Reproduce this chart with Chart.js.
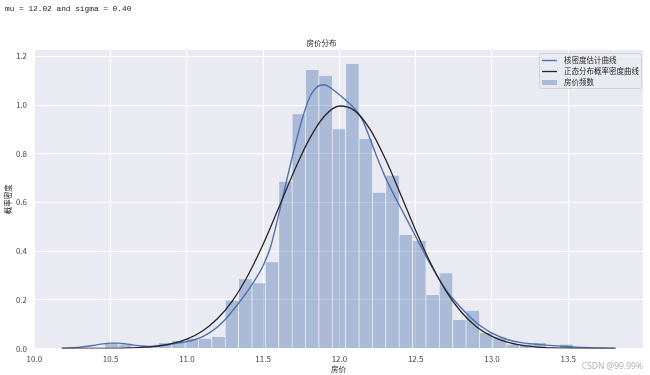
<!DOCTYPE html>
<html>
<head>
<meta charset="utf-8">
<script src="https://cdn.jsdelivr.net/npm/chart.js@4.4.1/dist/chart.umd.min.js"></script>
<style>
html, body { margin: 0; padding: 0; background: #ffffff; }
#wrap { position: relative; width: 650px; height: 375px; }
#stats { position: absolute; left: 5px; top: 4px; font: 7.8px "Liberation Mono", monospace; line-height: 10px; color: #222222; white-space: pre; }
#mark { position: absolute; right: 7px; top: 360px; font: 8.5px "Noto Sans", sans-serif; color: #b4b4b4; }
</style>
</head>
<body>
<div id="wrap">
    <canvas id="chart" width="650" height="375"></canvas>
    <div id="stats">mu = 12.02 and sigma = 0.40</div>
    <div id="mark">CSDN @99.99%</div>
</div>
<script>

// Histogram of log house prices (density): bin centres and heights.
var binCenters = [10.5041, 10.5918, 10.6795, 10.7672, 10.8549, 10.9426, 11.0303, 11.1180,
    11.2057, 11.2934, 11.3811, 11.4688, 11.5565, 11.6442, 11.7319, 11.8196, 11.9073,
    11.9950, 12.0827, 12.1704, 12.2581, 12.3458, 12.4335, 12.5212, 12.6089, 12.6966,
    12.7843, 12.8720, 12.9597, 13.0474, 13.1351, 13.2228, 13.3105, 13.3982, 13.4859];
var binDensity = [0.022, 0.016, 0.0, 0.008, 0.023, 0.031, 0.039, 0.040,
    0.047, 0.197, 0.284, 0.268, 0.354, 0.685, 0.962, 1.144, 1.120,
    0.900, 1.168, 0.860, 0.640, 0.710, 0.466, 0.443, 0.220, 0.309,
    0.117, 0.155, 0.064, 0.046, 0.016, 0.016, 0.023, 0.0, 0.016];

// Kernel density estimate curve.
var kdeX = [10.18, 10.25, 10.3, 10.35, 10.4, 10.45, 10.5, 10.55, 10.6, 10.65, 10.7, 10.75,
    10.8, 10.85, 10.9, 10.95, 11.0, 11.05, 11.1, 11.15, 11.2, 11.25, 11.3, 11.35, 11.4,
    11.45, 11.5, 11.55, 11.6, 11.65, 11.7, 11.75, 11.8, 11.85, 11.9, 11.95, 12.0, 12.05,
    12.1, 12.15, 12.2, 12.25, 12.3, 12.35, 12.4, 12.45, 12.5, 12.55, 12.6, 12.65, 12.7,
    12.75, 12.8, 12.85, 12.9, 12.95, 13.0, 13.1, 13.2, 13.3, 13.4, 13.5, 13.6, 13.7, 13.81];
var kdeY = [0.001, 0.003, 0.005, 0.009, 0.014, 0.019, 0.022, 0.022, 0.019, 0.014, 0.010, 0.008,
    0.009, 0.013, 0.018, 0.023, 0.028, 0.036, 0.048, 0.065, 0.088, 0.118, 0.155, 0.195, 0.238,
    0.285, 0.340, 0.420, 0.545, 0.680, 0.810, 0.930, 1.025, 1.072, 1.083, 1.067, 1.042, 1.015,
    0.985, 0.940, 0.862, 0.780, 0.705, 0.640, 0.580, 0.520, 0.460, 0.400, 0.342, 0.288, 0.240,
    0.200, 0.165, 0.133, 0.105, 0.082, 0.063, 0.037, 0.023, 0.017, 0.012, 0.008, 0.004, 0.002, 0.0005];

// Fitted normal curve (mu = 12.02, sigma = 0.40).
var normX = [10.18, 10.3, 10.4, 10.5, 10.6, 10.7, 10.8, 10.9, 11.0, 11.1, 11.2, 11.3, 11.4,
    11.5, 11.6, 11.7, 11.8, 11.9, 12.0, 12.1, 12.2, 12.3, 12.4, 12.5, 12.6, 12.7, 12.8,
    12.9, 13.0, 13.1, 13.2, 13.3, 13.4, 13.5, 13.6, 13.7, 13.81];
var normY = [0.00002, 0.0001, 0.0003, 0.0007, 0.0018, 0.0043, 0.0095, 0.0197, 0.0386, 0.071,
    0.122, 0.197, 0.300, 0.428, 0.575, 0.724, 0.857, 0.953, 0.996, 0.977, 0.901, 0.780,
    0.635, 0.485, 0.348, 0.235, 0.149, 0.0887, 0.0496, 0.026, 0.0129, 0.0060, 0.0026,
    0.0011, 0.0004, 0.00015, 0.00005];

// Tick values on each axis.
var xTickValues = [10.0, 10.5, 11.0, 11.5, 12.0, 12.5, 13.0, 13.5];
var yTickValues = [0.0, 0.2, 0.4, 0.6, 0.8, 1.0, 1.2];

var seriesNames = ["核密度估计曲线", "正态分布概率密度曲线", "房价频数"];


/**
* Zip two value arrays into {x, y} points.
*/
function toPoints(xs, ys) {

    return(xs.map((x, i) => ({x: x, y: ys[i]})));

} // End of toPoints()


/**
* Paint the seaborn-style grey background behind the plot area.
*/
var plotBackground = {
    id: "plotBackground",
    beforeDraw: function(chart) {
        var area = chart.chartArea;
        var ctx = chart.ctx;
        ctx.save();
        ctx.fillStyle = "#eaeaf2";
        ctx.fillRect(area.left, area.top, area.right - area.left, area.bottom - area.top);
        ctx.restore();
    }
};


/**
* Legend drawn inside the top right corner of the plot.
*/
var insideLegend = {
    id: "insideLegend",
    afterDatasetsDraw: function(chart) {

        var ctx = chart.ctx;
        var area = chart.chartArea;
        var items = chart.data.datasets;

        ctx.save();
        ctx.font = '7.5px "Noto Sans CJK SC"';
        var textW = Math.max(...items.map(d => ctx.measureText(d.label).width));
        var right = area.right - 2;
        var left = right - textW - 27;
        var top = area.top + 3;

        ctx.beginPath();
        ctx.roundRect(left + 0.5, top + 0.5, right - left, 35, 2);
        ctx.fillStyle = "rgba(234, 234, 242, 0.8)";
        ctx.fill();
        ctx.strokeStyle = "rgba(204, 204, 204, 0.8)";
        ctx.lineWidth = 1;
        ctx.stroke();

        items.forEach((d, i) => {
            var cy = top + 7.5 + i * 11;
            if (d.type === "line") {
                ctx.beginPath();
                ctx.moveTo(left + 3, cy);
                ctx.lineTo(left + 18, cy);
                ctx.strokeStyle = d.borderColor;
                ctx.lineWidth = d.borderWidth;
                ctx.stroke();
            } else {
                ctx.fillStyle = d.backgroundColor;
                ctx.fillRect(left + 3, cy - 2.5, 15, 5);
            }
            ctx.fillStyle = "#262626";
            ctx.textBaseline = "middle";
            ctx.textAlign = "left";
            ctx.fillText(d.label, left + 25, cy);
        });

        ctx.restore();

    }
};


Chart.defaults.font.family = '"Noto Sans CJK SC", "Noto Sans", sans-serif';

var ctx = document.getElementById("chart").getContext("2d");
window.chart = new Chart(ctx, {
    type: "bar",
    data: {
        datasets: [
            {
                type: "line",
                label: seriesNames[0],
                data: toPoints(kdeX, kdeY),
                borderColor: "#4c72b0",
                borderWidth: 1.4,
                pointRadius: 0,
                cubicInterpolationMode: "monotone",
                order: 2,
            },
            {
                type: "line",
                label: seriesNames[1],
                data: toPoints(normX, normY),
                borderColor: "#262626",
                borderWidth: 1.3,
                pointRadius: 0,
                cubicInterpolationMode: "monotone",
                order: 1,
            },
            {
                type: "bar",
                label: seriesNames[2],
                data: toPoints(binCenters, binDensity),
                backgroundColor: "rgba(76, 114, 176, 0.4)",
                borderColor: "rgba(255, 255, 255, 0.35)",
                borderWidth: {left: 1, right: 0, top: 0, bottom: 0},
                barPercentage: 1.0,
                categoryPercentage: 1.0,
                order: 3,
            },
        ],
    },
    options: {
        responsive: false,
        animation: false,
        events: [],
        layout: {
            padding: {top: 0, right: 7, bottom: 0, left: 0},
        },
        scales: {
            x: {
                type: "linear",
                min: 9.998,
                max: 13.99,
                offset: false,
                border: {display: false},
                grid: {color: "#ffffff", lineWidth: 1, drawTicks: false, offset: false},
                afterBuildTicks: function(scale) {
                    scale.ticks = xTickValues.map(v => ({value: v}));
                },
                afterFit: function(scale) {
                    scale.height = 26.5;
                },
                ticks: {
                    autoSkip: false,
                    maxRotation: 0,
                    padding: 6,
                    color: "#444444",
                    font: {size: 8},
                    callback: (v) => v.toFixed(1),
                },
                title: {
                    display: true,
                    text: "房价",
                    color: "#262626",
                    font: {size: 7.5},
                    padding: {top: 0, bottom: 1.5},
                },
            },
            y: {
                type: "linear",
                min: 0,
                max: 1.226,
                border: {display: false},
                grid: {color: "#ffffff", lineWidth: 1, drawTicks: false},
                afterBuildTicks: function(scale) {
                    scale.ticks = yTickValues.map(v => ({value: v}));
                },
                afterFit: function(scale) {
                    scale.width = 34;
                },
                ticks: {
                    padding: 7,
                    color: "#444444",
                    font: {size: 8},
                    callback: (v) => v.toFixed(1),
                },
                title: {
                    display: true,
                    text: "概率密度",
                    color: "#262626",
                    font: {size: 7.5},
                    padding: {top: 4, bottom: 0},
                },
            },
        },
        plugins: {
            legend: {display: false},
            tooltip: {enabled: false},
            title: {
                display: true,
                text: "房价分布",
                color: "#262626",
                font: {size: 7.5, weight: "normal"},
                padding: {top: 38.5, bottom: 2.5},
            },
        },
    },
    plugins: [plotBackground, insideLegend],
});

</script>
</body>
</html>
